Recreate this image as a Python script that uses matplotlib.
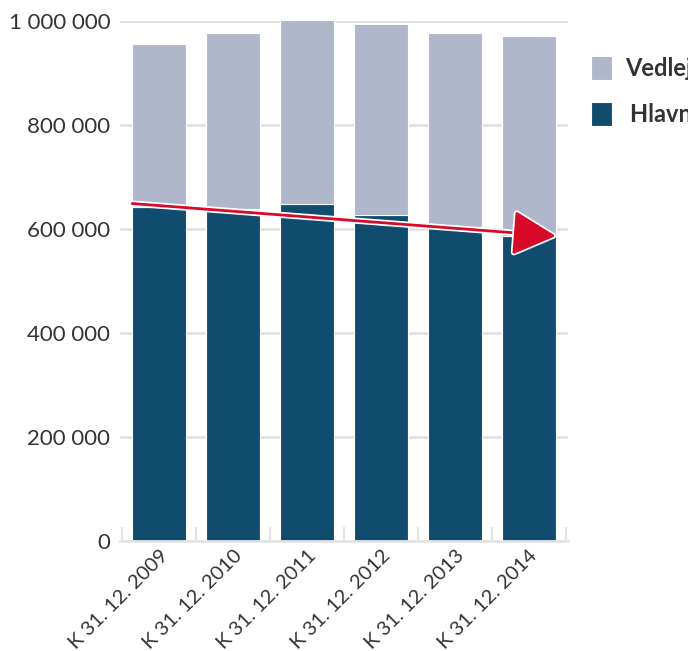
import matplotlib
matplotlib.use("Agg")
import matplotlib.pyplot as plt
import matplotlib.patheffects as pe
from matplotlib.patches import Rectangle
from matplotlib.ticker import FuncFormatter, FixedLocator
import numpy as np

plt.rcParams['font.family'] = ['Lato', 'DejaVu Sans']

# data
categories = ['K 31. 12. 2009', 'K 31. 12. 2010', 'K 31. 12. 2011',
              'K 31. 12. 2012', 'K 31. 12. 2013', 'K 31. 12. 2014']
hlavni = [643000, 639000, 649000, 626000, 604000, 587000]
celkem = [955000, 976000, 1001000, 994000, 976000, 972000]
vedlejsi = [c - h for c, h in zip(celkem, hlavni)]
trend_start = 649000
trend_end = 586500
yticks = [0, 200000, 400000, 600000, 800000, 1000000]

dark = '#0f4c6e'
light = '#b1b7ca'
red = '#d90a28'
grid_c = '#e3e3e3'

fig = plt.figure(figsize=(6.88, 6.51), dpi=100)
ax = fig.add_axes([120/688, 1 - 541/651, 448/688, 520/651])

x = np.arange(len(categories))
w = 0.73
ax.bar(x, hlavni, width=w, color=dark, edgecolor='white', linewidth=0.8, zorder=3, clip_on=False)
ax.bar(x, vedlejsi, width=w, bottom=hlavni, color=light, edgecolor='white', linewidth=0.8, zorder=3, clip_on=False)

ax.set_xlim(-0.53, len(categories) - 0.47)
ax.set_ylim(0, 1000000)

ax.set_yticks(yticks)
ax.yaxis.set_major_formatter(FuncFormatter(lambda v, p: f'{int(v):,}'.replace(',', ' ')))
ax.grid(axis='y', color=grid_c, linewidth=2.2, zorder=0)
ax.tick_params(axis='y', length=0, pad=7, labelsize=16, labelcolor='#333333')

# category boundary ticks
ax.xaxis.set_major_locator(FixedLocator(np.arange(len(categories) + 1) - 0.5))
ax.xaxis.set_minor_locator(FixedLocator(x))
ax.xaxis.set_major_formatter(plt.NullFormatter())
ax.set_xticks(x, categories, minor=True)
ax.tick_params(axis='x', which='major', direction='in', length=10, width=1.5, color=grid_c)
ax.tick_params(axis='x', which='minor', length=0, pad=4, labelsize=14.5, labelcolor='#333333')
for lbl in ax.get_xticklabels(minor=True):
    lbl.set_rotation(45)
    lbl.set_ha('right')
    lbl.set_rotation_mode('anchor')

for s in ['top', 'right', 'left']:
    ax.spines[s].set_visible(False)
ax.spines['bottom'].set_color(grid_c)
ax.spines['bottom'].set_linewidth(2)
ax.spines['bottom'].set_zorder(4)

# trend arrow
ax.annotate('', xy=(x[-1] + w/2, trend_end), xytext=(x[0] - w/2, trend_start),
            arrowprops=dict(arrowstyle='-|>,head_length=27,head_width=14', mutation_scale=1,
                            color=red, lw=2, shrinkA=0, shrinkB=0,
                            path_effects=[pe.Stroke(linewidth=4.5, foreground='white'), pe.Normal()]),
            zorder=5, annotation_clip=False)

# legend
leg = [('Vedlejší pracovní poměr', light, 56, 625), ('Hlavní pracovní poměr', dark, 102, 630)]
for label, col, ytop, tx in leg:
    fig.add_artist(Rectangle((591/688, 1 - (ytop + 24)/651), 21/688, 24/651,
                             transform=fig.transFigure, facecolor=col, edgecolor='white', lw=0.8))
    fig.text(tx/688, 1 - (ytop + 12)/651, label, fontsize=17, fontweight='bold',
             color='#333333', va='center', ha='left')

fig.savefig('out.png', dpi=100)
